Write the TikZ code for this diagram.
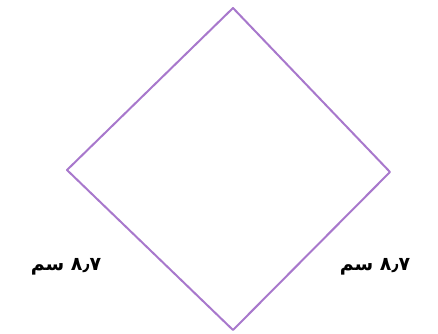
\documentclass[tikz,border=0pt]{standalone}
\usepackage{fontspec}
\newfontfamily\arabicfont[Script=Arabic]{DejaVu Sans}
\TeXXeTstate=1
\definecolor{edgepurple}{HTML}{A878CC}
\begin{document}
\begin{tikzpicture}[x=1pt,y=1pt,
  edge/.style={draw=edgepurple, line width=2pt, line join=round},
  lbl/.style={font=\arabicfont\bfseries\fontsize{19}{22}\selectfont, inner sep=0pt}]
\useasboundingbox (0,0) rectangle (438,333);
\coordinate (T) at (233,325);
\coordinate (L) at (67,163);
\coordinate (R) at (390,161);
\coordinate (B) at (233,3);
\draw[edge] (T) -- (R) -- (B) -- (L) -- cycle;
\node[lbl] (ll) at (66,66) {\beginR\beginL ٨٫٧\endL{} سم\endR};
\node[lbl] (rl) at (375,66) {\beginR\beginL ٨٫٧\endL{} سم\endR};
\end{tikzpicture}
\end{document}
